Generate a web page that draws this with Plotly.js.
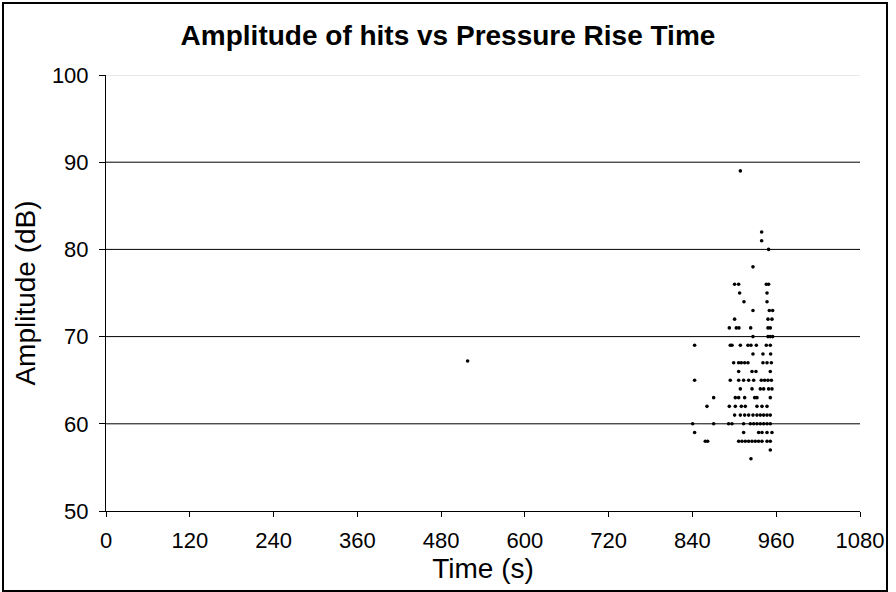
<!DOCTYPE html>
<html>
<head>
<meta charset="utf-8">
<script src="https://cdn.plot.ly/plotly-3.0.1.min.js"></script>
<style>
html,body{margin:0;padding:0;background:#fff;}
#wrap{position:relative;width:896px;height:592px;}
#chart{position:absolute;left:0;top:0;width:896px;height:592px;}
#frame{position:absolute;left:2px;top:2px;width:882px;height:586px;border:2px solid #000;pointer-events:none;}
</style>
</head>
<body>
<div id="wrap"><div id="chart"></div><div id="frame"></div></div>
<script>
// Hit times (s) and amplitudes (dB), grouped by amplitude row
const time = [
  518,
  908.6,
  939.1,
  939.1,
  949.1,
  926.7,
  900.4, 906.2, 945.8, 949.1,
  907.6, 946.8,
  913.8, 946.8,
  926.7, 950.1, 954.9,
  900.4, 948.2, 953.9,
  892.8, 902.8, 906.6, 923.4, 948.2, 951.5,
  926.7, 948.2, 951.5, 954.9,
  843.1, 894.2, 896.6, 908.6, 919.5, 923.8, 931.5, 945.8, 951.5,
  926.7, 941.0, 952.0,
  899.0, 906.2, 910.0, 914.8, 919.5, 941.0, 946.8, 953.0,
  906.2, 925.3, 931.0, 951.5,
  843.1, 894.2, 906.2, 913.3, 920.5, 927.7, 938.6, 943.4, 948.2, 953.0,
  908.6, 925.3, 937.2, 942.0, 949.1, 953.9,
  870.4, 901.4, 906.2, 914.8, 929.1, 932.4, 951.5,
  860.8, 892.8, 901.4, 910.0, 915.7, 932.4, 939.6, 946.8,
  900.4, 908.6, 914.8, 920.5, 926.7, 932.4, 937.2, 942.0, 946.8, 951.5,
  840.3, 870.4, 891.8, 896.6, 913.3, 922.9, 927.7, 932.4, 937.2, 942.0, 946.8, 951.5,
  843.1, 913.3, 934.8, 939.6, 946.8, 953.9,
  858.4, 861.8, 906.2, 910.9, 915.7, 920.5, 925.3, 930.0, 934.8, 939.6, 946.8, 951.5,
  951.5,
  923.8
];
const amplitude = [
  67.2,
  89,
  82,
  81,
  80,
  78,
  76, 76, 76, 76,
  75, 75,
  74, 74,
  73, 73, 73,
  72, 72, 72,
  71, 71, 71, 71, 71, 71,
  70, 70, 70, 70,
  69, 69, 69, 69, 69, 69, 69, 69, 69,
  68, 68, 68,
  67, 67, 67, 67, 67, 67, 67, 67,
  66, 66, 66, 66,
  65, 65, 65, 65, 65, 65, 65, 65, 65, 65,
  64, 64, 64, 64, 64, 64,
  63, 63, 63, 63, 63, 63, 63,
  62, 62, 62, 62, 62, 62, 62, 62,
  61, 61, 61, 61, 61, 61, 61, 61, 61, 61,
  60, 60, 60, 60, 60, 60, 60, 60, 60, 60, 60, 60,
  59, 59, 59, 59, 59, 59,
  58, 58, 58, 58, 58, 58, 58, 58, 58, 58, 58, 58,
  57,
  56
];
const xTicks = [0, 120, 240, 360, 480, 600, 720, 840, 960, 1080];
const yTicks = [50, 60, 70, 80, 90, 100];
const chartTitle = 'Amplitude of hits vs Pressure Rise Time';
const xTitle = 'Time (s)';
const yTitle = 'Amplitude (dB)';

const font = '"Liberation Sans", Arial, sans-serif';

// horizontal gridlines (top one is pale, as in the reference)
const gridShapes = yTicks.filter(v => v > 50).map(v => ({
  type: 'line', layer: 'below',
  xref: 'paper', x0: 0, x1: 1,
  yref: 'y', y0: v, y1: v,
  line: {color: v === 100 ? '#d4d4d4' : '#000', width: 1}
}));

Plotly.newPlot('chart', [{
  type: 'scatter',
  mode: 'markers',
  x: time,
  y: amplitude,
  marker: {color: '#000', size: 3.6, symbol: 'circle'},
  hoverinfo: 'x+y',
  showlegend: false
}], {
  width: 896, height: 592,
  margin: {l: 106, r: 36, t: 75, b: 81},
  paper_bgcolor: '#fff', plot_bgcolor: '#fff',
  font: {family: font, color: '#000'},
  shapes: gridShapes,
  title: {
    text: '<b>' + chartTitle + '</b>',
    font: {family: font, size: 28, color: '#000'},
    xref: 'container', x: 0.5, xanchor: 'center',
    yref: 'container', y: 1 - 35/592, yanchor: 'middle'
  },
  xaxis: {
    range: [0, 1080],
    tickmode: 'array', tickvals: xTicks, ticktext: xTicks.map(String),
    ticks: 'outside', ticklen: 5, tickcolor: '#000', tickwidth: 1,
    showline: true, linecolor: '#000', linewidth: 1,
    showgrid: false, zeroline: false,
    ticklabelstandoff: 5,
    tickfont: {family: font, size: 22, color: '#000'},
    title: {text: xTitle, font: {family: font, size: 28, color: '#000'}, standoff: 0}
  },
  yaxis: {
    range: [50, 100],
    tickmode: 'array', tickvals: yTicks, ticktext: yTicks.map(String),
    ticks: 'outside', ticklen: 6, tickcolor: '#000', tickwidth: 1,
    showline: true, linecolor: '#000', linewidth: 1,
    showgrid: false, zeroline: false,
    ticklabelstandoff: 6,
    tickfont: {family: font, size: 22, color: '#000'},
    title: {text: yTitle, font: {family: font, size: 28, color: '#000'}, standoff: 8}
  }
}, {displayModeBar: false, staticPlot: true});
</script>
</body>
</html>
